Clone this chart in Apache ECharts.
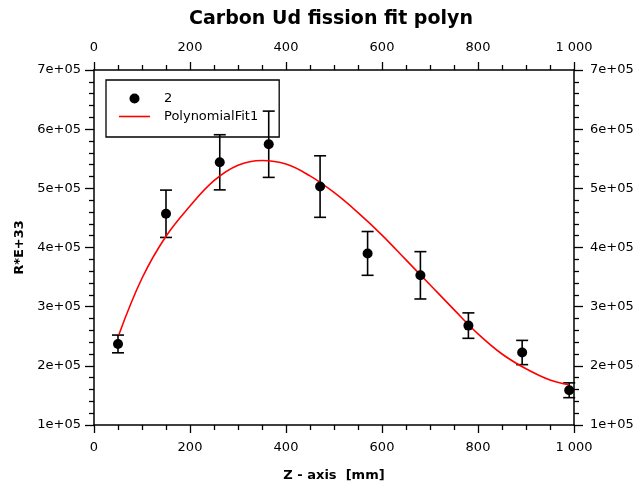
<!DOCTYPE html>
<html>
<head>
<meta charset="utf-8">
<script src="https://cdn.jsdelivr.net/npm/echarts@6/dist/echarts.min.js"></script>
<style>
  html, body { margin: 0; padding: 0; background: #fff; }
  #chart { width: 638px; height: 487px; }
</style>
</head>
<body>
<div id="chart"></div>
<script>
// Measured points: position along Z [mm], value and symmetric uncertainty
const zPos = [50, 150, 262, 364, 471, 570, 680, 780, 892, 990];
const rVal = [237000, 457000, 544000, 574500, 503000, 390000, 353000, 268000, 222500, 158700];
const rErr = [15000, 40000, 46600, 56000, 52000, 37000, 40000, 21500, 20500, 12500];

// Polynomial fit curve, sampled along Z
const fitZ = [52, 100, 150, 200, 250, 300, 350, 400, 450, 500, 550, 600, 650, 700, 750, 800, 850, 900, 950, 990];
const fitR = [253000, 348000, 419000, 470000, 513000, 539000, 547000, 541000, 521000, 493000, 459000, 421000, 379000, 337000, 295000, 254000, 220000, 195000, 176000, 168000];

// Axis ranges and tick steps
const xMin = 0, xMax = 1000, xStep = 200;
const yMin = 100000, yMax = 700000, yStep = 100000;

const FONT = 'DejaVu Sans';

function sciLabel(v) {
  const s = v.toExponential(0);
  const parts = s.split('e');
  const sign = parts[1][0];
  let exp = parts[1].slice(1);
  if (exp.length < 2) exp = '0' + exp;
  return parts[0] + 'e' + sign + exp;
}
function thousandsLabel(v) {
  return v >= 1000 ? String(v).replace(/\B(?=(\d{3})+(?!\d))/g, ' ') : String(v);
}

const pointData = zPos.map((z, i) => [z, rVal[i]]);
const errData = zPos.map((z, i) => [z, rVal[i] - rErr[i], rVal[i] + rErr[i]]);
const fitData = fitZ.map((z, i) => [z, fitR[i]]);

const axisLabelStyle = { color: '#000', fontFamily: FONT, fontSize: 13 };
const nameStyle = { color: '#000', fontFamily: FONT, fontSize: 13, fontWeight: 'bold' };

function xAxisDef(pos, withName) {
  return {
    type: 'value', position: pos, min: xMin, max: xMax, interval: xStep,
    name: withName ? 'Z - axis  [mm]' : '',
    nameLocation: 'middle', nameGap: 44,
    nameTextStyle: nameStyle,
    axisLine: { show: true, onZero: false, lineStyle: { color: '#000', width: 1.5 } },
    axisTick: { show: true, inside: false, length: 8, lineStyle: { color: '#000', width: 1.3 } },
    minorTick: { show: true, splitNumber: 4, length: 5, lineStyle: { color: '#000', width: 1.3 } },
    splitLine: { show: false },
    axisLabel: Object.assign({ margin: 16, formatter: thousandsLabel }, axisLabelStyle)
  };
}
function yAxisDef(pos, withName) {
  return {
    type: 'value', position: pos, min: yMin, max: yMax, interval: yStep,
    name: withName ? 'R*E+33' : '',
    nameLocation: 'middle', nameGap: 61, nameRotate: 90,
    nameTextStyle: nameStyle,
    axisLine: { show: true, onZero: false, lineStyle: { color: '#000', width: 1.5 } },
    axisTick: { show: true, inside: false, length: 9, lineStyle: { color: '#000', width: 1.3 } },
    minorTick: { show: true, splitNumber: 5, length: 5, lineStyle: { color: '#000', width: 1.3 } },
    splitLine: { show: false },
    axisLabel: Object.assign({ margin: pos === 'left' ? 13 : 16, formatter: sciLabel }, axisLabelStyle)
  };
}

const chart = echarts.init(document.getElementById('chart'), null, { renderer: 'canvas' });

chart.setOption({
  animation: false,
  backgroundColor: '#fff',
  title: {
    text: 'Carbon Ud fission fit polyn',
    left: 326, top: 5, textAlign: 'center',
    textStyle: { color: '#000', fontFamily: FONT, fontSize: 19, fontWeight: 'bold' }
  },
  grid: { left: 94, right: 64, top: 70, bottom: 58, containLabel: false },
  legend: {
    data: [
      { name: '2', icon: 'circle' },
      { name: 'PolynomialFit1', icon: 'path://M0,0 L31,0 L31,1.6 L0,1.6 Z' }
    ],
    orient: 'vertical', left: 106, top: 80,
    borderColor: '#000', borderWidth: 1.3,
    padding: [12, 21, 14, 13], itemGap: 5,
    itemWidth: 31, itemHeight: 10,
    textStyle: { color: '#000', fontFamily: FONT, fontSize: 13, padding: [0, 0, 0, 9] }
  },
  xAxis: [xAxisDef('bottom', true), xAxisDef('top', false)],
  yAxis: [yAxisDef('left', true), yAxisDef('right', false)],
  series: [
    {
      name: 'errors',
      type: 'custom',
      xAxisIndex: 0, yAxisIndex: 0,
      data: errData,
      z: 3,
      renderItem: function (params, api) {
        const x = api.value(0);
        const lo = api.coord([x, api.value(1)]);
        const hi = api.coord([x, api.value(2)]);
        const cap = 6;
        const style = { stroke: '#000', lineWidth: 1.6, fill: null };
        return {
          type: 'group',
          children: [
            { type: 'line', shape: { x1: lo[0], y1: lo[1], x2: hi[0], y2: hi[1] }, style: style },
            { type: 'line', shape: { x1: hi[0] - cap, y1: hi[1], x2: hi[0] + cap, y2: hi[1] }, style: style },
            { type: 'line', shape: { x1: lo[0] - cap, y1: lo[1], x2: lo[0] + cap, y2: lo[1] }, style: style }
          ]
        };
      }
    },
    {
      name: 'PolynomialFit1',
      type: 'line',
      xAxisIndex: 0, yAxisIndex: 0,
      data: fitData,
      smooth: 0.4,
      symbol: 'none',
      z: 4,
      lineStyle: { color: '#ff0000', width: 1.6 },
      itemStyle: { color: '#ff0000' }
    },
    {
      name: '2',
      type: 'scatter',
      xAxisIndex: 0, yAxisIndex: 0,
      data: pointData,
      symbol: 'circle',
      symbolSize: 10,
      z: 5,
      itemStyle: { color: '#000', opacity: 1 }
    }
  ]
});
</script>
</body>
</html>
